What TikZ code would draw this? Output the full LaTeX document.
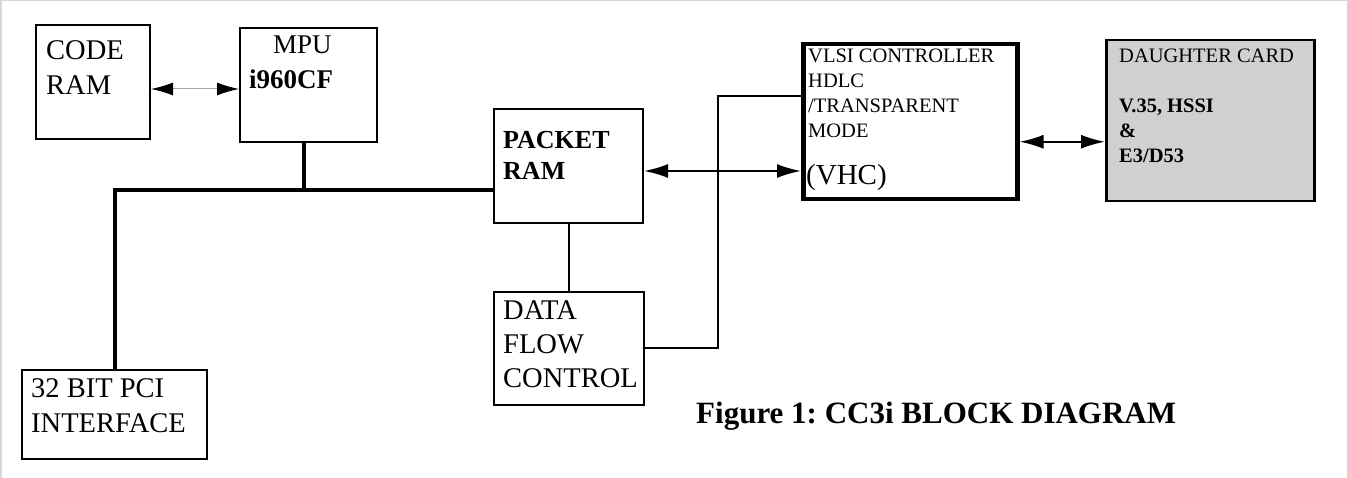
\documentclass[tikz,border=0pt]{standalone}
\usepackage{fontspec}
\setmainfont{Liberation Serif}
\frenchspacing
\usetikzlibrary{positioning,arrows.meta}
\definecolor{cbFrame}{RGB}{215,215,215}
\definecolor{cbCard}{RGB}{208,208,208}
\definecolor{cbThin}{RGB}{165,165,165}
\tikzset{
    txt/.style={font=\fontsize{28.5}{35}\selectfont, align=left, inner sep=0pt, anchor=base west},
    small/.style={txt, font=\fontsize{20.5}{25}\selectfont},
    block/.style={draw, line width=2pt, anchor=north west, inner sep=0pt},
    heavy/.style={block, line width=4.5pt},
    card/.style={block, line width=2.5pt, fill=cbCard},
    busline/.style={line width=4pt},
    wire/.style={line width=2pt},
    link/.style={{Latex[length=24pt,width=14pt]}-{Latex[length=24pt,width=14pt]}, line width=2pt},
    thinlink/.style={{Latex[length=22pt,width=13pt,color=black]}-{Latex[length=22pt,width=13pt,color=black]},
                     line width=1pt, cbThin}
}

\begin{document}
\begin{tikzpicture}[x=1pt, y=-1pt]
  \useasboundingbox (0,0) rectangle (1347,478);
  % scan frame
  \draw[cbFrame, line width=3pt] (0,478) -- (0,0) -- (1347,0);

  % Boxes
  \node[block, minimum width=114pt, minimum height=114pt] (coderam) at (35,24) {};
  \node[block, minimum width=137pt, minimum height=114pt] (mpu) at (239,27) {};
  \node[block, minimum width=185pt, minimum height=89pt] (pci) at (21,369) {};
  \node[block, minimum width=149pt, minimum height=114pt] (pkt) at (493,108) {};
  \node[block, minimum width=150pt, minimum height=113pt] (dfc) at (493,291) {};
  \node[heavy, minimum width=214pt, minimum height=155pt] (vhc) at (801,42) {};
  \node[card, minimum width=208pt, minimum height=161pt] (dcard) at (1105,39) {};

  % Box texts (anchored on the last line)
  \node[txt] (coderamtxt) at (46,95) {CODE\\RAM};
  \node[txt, font=\fontsize{27}{35}\selectfont] (mputxt) at (249,89) {\hspace*{24pt}MPU\\\textbf{i960CF}};
  \node[txt] (pcitxt) at (31,432) {32 BIT PCI\\INTERFACE};
  \node[txt, font=\fontsize{26}{31}\selectfont\bfseries] (pkttxt) at (503,180) {PACKET\\RAM};
  \node[txt, font=\fontsize{28.5}{34.5}\selectfont] (dfctxt) at (503,388) {DATA\\FLOW\\CONTROL};
  \node[small] (vhctxt) at (808,138) {VLSI CONTROLLER\\HDLC\\/TRANSPARENT\\MODE};
  \node[txt, font=\fontsize{29}{35}\selectfont] (vhcname) at (806,185) {(VHC)};
  \node[small] (dcardtxt) at (1119,163)
    {DAUGHTER CARD\\[25pt]\textbf{V.35, HSSI}\\\textbf{\&}\\\textbf{E3/D53}};

  % Bus
  \coordinate (busrow) at (0,190);
  \draw[busline] (pci.north) |- (pkt.west |- busrow);
  \draw[busline] ([xshift=-5pt]mpu.south) -- ([xshift=-5pt]mpu.south |- busrow);

  % Links
  \draw[thinlink] ([yshift=-7pt]coderam.east) -- ([yshift=-7pt]coderam.east -| mpu.west);
  \draw[wire] (pkt.south) -- (pkt.south |- dfc.north);
  \coordinate (tap) at (718,96);
  \draw[wire] (dfc.east) -| (tap) -- (tap -| vhc.west);
  \draw[link] ([yshift=-5pt]pkt.east) -- ([yshift=-5pt]pkt.east -| vhc.west);
  \draw[link] ([yshift=-20pt]vhc.east) -- ([yshift=-20pt]vhc.east -| dcard.west);

  % Caption
  \node[txt, font=\fontsize{31}{35}\selectfont\bfseries] (caption) at (696,423)
    {Figure 1: CC3i BLOCK DIAGRAM};
\end{tikzpicture}
\end{document}
